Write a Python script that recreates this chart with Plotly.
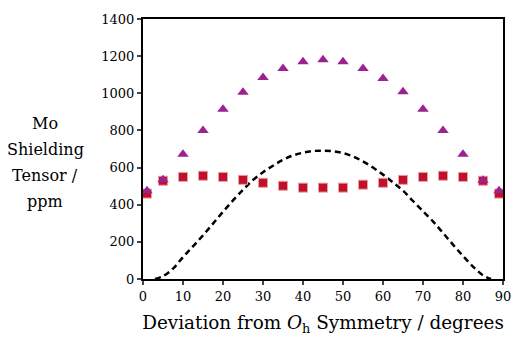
import plotly.graph_objects as go

# data
pt_x = [1, 5, 10, 15, 20, 25, 30, 35, 40, 45, 50, 55, 60, 65, 70, 75, 80, 85, 89]
tri_y = [475, 535, 672, 800, 914, 1005, 1085, 1133, 1170, 1180, 1170, 1133, 1080, 1008, 914, 800, 672, 532, 475]
sq_y = [460, 529, 550, 556, 550, 534, 518, 502, 492, 492, 492, 508, 518, 534, 550, 556, 550, 529, 460]

curve_x = [3, 5, 7.5, 10, 12.5, 15, 17.5, 20, 22.5, 25, 27.5, 30, 32.5, 35, 37.5, 40, 42.5, 45,
           47.5, 50, 52.5, 55, 57.5, 60, 62.5, 65, 67.5, 70, 72.5, 75, 77.5, 80, 82.5, 85, 87]
curve_y = [0, 15, 56, 118, 176, 235, 298, 362, 423, 480, 533, 575, 610, 642, 665, 680, 689, 691,
           688, 678, 660, 633, 600, 562, 520, 476, 420, 365, 310, 248, 185, 124, 67, 20, 0]

x_ticks = [0, 10, 20, 30, 40, 50, 60, 70, 80, 90]
y_ticks = [0, 200, 400, 600, 800, 1000, 1200, 1400]

y_title_lines = ["Mo", "Shielding", "Tensor /", "ppm"]
y_title_pos = [0.60, 0.497, 0.397, 0.30]

FONT = "DejaVu Serif"

fig = go.Figure()
fig.add_trace(go.Scatter(x=curve_x, y=curve_y, mode="lines",
                         line=dict(color="black", width=2.5, dash="6px,4px", shape="spline"),
                         showlegend=False, hoverinfo="skip"))
fig.add_trace(go.Scatter(x=pt_x, y=sq_y, mode="markers",
                         marker=dict(symbol="square", size=9, color="#c0102c",
                                     line=dict(color="#e8a0a0", width=1)),
                         showlegend=False))
fig.add_trace(go.Scatter(x=pt_x, y=tri_y, mode="markers",
                         marker=dict(symbol="triangle-up", size=10, color="#9c2290",
                                     line=dict(width=0)),
                         showlegend=False))

fig.update_layout(
    width=514, height=337,
    margin=dict(l=143, r=11, t=19, b=58, autoexpand=False),
    paper_bgcolor="white", plot_bgcolor="white",
    font=dict(family=FONT, color="black", size=13),
    xaxis=dict(range=[0, 90], tickvals=x_ticks, ticks="outside", ticklen=4, tickwidth=1.5,
               showline=True, linecolor="black", linewidth=2, mirror=True,
               showgrid=False, zeroline=False, automargin=False,
               tickfont=dict(size=13, family=FONT, color="black"),
               title=dict(text="Deviation from <i>O</i><sub>h</sub> Symmetry / degrees",
                          font=dict(size=18.4, family=FONT, color="black"), standoff=14)),
    yaxis=dict(range=[0, 1400], tickvals=y_ticks, ticks="outside", ticklen=4, tickwidth=1.5,
               showline=True, linecolor="black", linewidth=2, mirror=True,
               showgrid=False, zeroline=False, automargin=False,
               tickfont=dict(size=13, family=FONT, color="black")),
    annotations=[dict(text=t, xref="paper", yref="paper",
                      x=-0.272, y=yy, xanchor="center", yanchor="middle", showarrow=False,
                      align="center", font=dict(size=16, family=FONT, color="black"))
                 for t, yy in zip(y_title_lines, y_title_pos)],
)

fig.write_html("out.html")
